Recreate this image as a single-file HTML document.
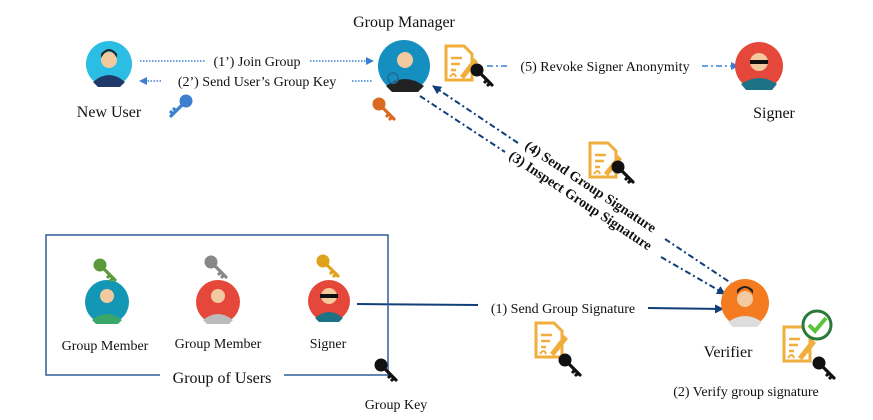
<!DOCTYPE html>
<html><head><meta charset="utf-8"><style>
html,body{margin:0;padding:0;background:#fff}
svg{display:block}
text{font-family:"Liberation Serif",serif;fill:#111}
</style></head><body>
<svg width="873" height="420" viewBox="0 0 873 420" xmlns="http://www.w3.org/2000/svg">
<defs>
<marker id="ab" markerWidth="8" markerHeight="8" refX="7" refY="4" orient="auto" markerUnits="userSpaceOnUse"><path d="M0,0 L8,4 L0,8 z" fill="#3a7fd0"/></marker>
<marker id="an" markerWidth="9" markerHeight="9" refX="8" refY="4.5" orient="auto" markerUnits="userSpaceOnUse"><path d="M0,0 L9,4.5 L0,9 z" fill="#123f7a"/></marker>
<g id="key"><circle cx="0" cy="0" r="6"/><path d="M4,4 L15,15 M10,10 L8,12 M13,13 L11,15" stroke-width="3.2" stroke-linecap="round"/></g>
<g id="doc"><path d="M2,2 H20 L28,10 V36 H2 Z" fill="#fff" stroke="#f0ae3c" stroke-width="3"/><path d="M7,14 H18 M7,20 H16 M7,26 H12" stroke="#f0ae3c" stroke-width="2.5"/><path d="M6,33 q4,-6 6,0" stroke="#f0ae3c" stroke-width="2" fill="none"/><path d="M16,32 L30,14 L34,18 L20,35 Z" fill="#f0ae3c"/></g>
</defs>

<line x1="140" y1="61" x2="205" y2="61" stroke="#3a7fd0" stroke-width="1.5" stroke-dasharray="1.5 1.5"/>
<line x1="310" y1="61" x2="373" y2="61" stroke="#3a7fd0" stroke-width="1.5" stroke-dasharray="1.5 1.5" marker-end="url(#ab)"/>
<line x1="161" y1="81" x2="140" y2="81" stroke="#3a7fd0" stroke-width="1.5" stroke-dasharray="1.5 1.5" marker-end="url(#ab)"/>
<line x1="352" y1="81" x2="373" y2="81" stroke="#3a7fd0" stroke-width="1.5" stroke-dasharray="1.5 1.5"/>
<text x="257" y="66" font-size="14" text-anchor="middle">(1’) Join Group</text>
<text x="257" y="86" font-size="14" text-anchor="middle">(2’) Send User’s Group Key</text>
<line x1="487" y1="66" x2="507" y2="66" stroke="#3a7fd0" stroke-width="1.5" stroke-dasharray="6 3 2 3"/>
<line x1="702" y1="66" x2="738" y2="66" stroke="#3a7fd0" stroke-width="1.5" stroke-dasharray="6 3 2 3" marker-end="url(#ab)"/>
<text x="605" y="71" font-size="14" text-anchor="middle">(5) Revoke Signer Anonymity</text>

<line x1="518" y1="143" x2="433" y2="86" stroke="#123f7a" stroke-width="2" stroke-dasharray="6 3 2 3" marker-end="url(#an)"/>
<line x1="665" y1="239" x2="731" y2="283" stroke="#123f7a" stroke-width="2" stroke-dasharray="6 3 2 3"/>
<line x1="420" y1="96" x2="505" y2="152" stroke="#123f7a" stroke-width="2" stroke-dasharray="6 3 2 3"/>
<line x1="661" y1="257" x2="725" y2="294" stroke="#123f7a" stroke-width="2" stroke-dasharray="6 3 2 3" marker-end="url(#an)"/>
<text transform="translate(524,148) rotate(33.5)" font-size="14" font-weight="bold">(4) Send Group Signature</text>
<text transform="translate(508,158) rotate(33.5)" font-size="14" font-weight="bold">(3) Inspect Group Signature</text>

<line x1="357" y1="304" x2="478" y2="305" stroke="#123f7a" stroke-width="2"/>
<line x1="648" y1="308" x2="723" y2="309" stroke="#123f7a" stroke-width="2" marker-end="url(#an)"/>
<text x="563" y="313" font-size="14" text-anchor="middle">(1) Send Group Signature</text>

<path d="M160,375 H46 V235 H388 V375 H284" fill="none" stroke="#2f5f95" stroke-width="1.5"/>
<text x="222" y="383" font-size="16" text-anchor="middle">Group of Users</text>

<circle cx="109" cy="64" r="23" fill="#2bbde3"/><circle cx="109" cy="60" r="8" fill="#f3c9a0"/><path d="M93,82 q16,-14 32,0 L120,87 H98Z" fill="#1f3a68"/><path d="M101,58 q8,-14 16,0 v-4 q-8,-10 -16,0z" fill="#222"/>
<circle cx="404" cy="66" r="26" fill="#148fbf"/><circle cx="405" cy="60" r="8" fill="#f3c9a0"/><path d="M386,86 q19,-14 38,0 L418,92 H392Z" fill="#222"/><circle cx="393" cy="78" r="5" fill="none" stroke="#1f6fa0" stroke-width="2"/>
<circle cx="759" cy="66" r="24" fill="#e5483a"/><circle cx="759" cy="62" r="9" fill="#f3c9a0"/><rect x="750" y="60" width="18" height="4" fill="#111"/><path d="M741,84 q18,-12 36,0 L772,90 H746Z" fill="#1d7385"/>
<circle cx="107" cy="302" r="22" fill="#1496b5"/><circle cx="107" cy="296" r="7" fill="#f3c9a0"/><path d="M92,320 q15,-12 30,0 L118,324 H96Z" fill="#3aa66a"/>
<circle cx="218" cy="302" r="22" fill="#e5483a"/><circle cx="218" cy="296" r="7" fill="#f3c9a0"/><path d="M203,320 q15,-12 30,0 L229,324 H207Z" fill="#bbb"/>
<circle cx="329" cy="301" r="21" fill="#e5483a"/><circle cx="329" cy="296" r="8" fill="#f3c9a0"/><rect x="320" y="294" width="18" height="4" fill="#111"/><path d="M315,318 q14,-12 28,0 L339,322 H319Z" fill="#1d7385"/>
<circle cx="745" cy="303" r="24" fill="#f47b20"/><circle cx="745" cy="299" r="8" fill="#f3c9a0"/><path d="M737,294 q8,-12 16,0 v-4 q-8,-8 -16,0z" fill="#222"/><path d="M728,322 q17,-12 34,0 L757,327 H733Z" fill="#ddd"/>

<text x="109" y="117" font-size="16" text-anchor="middle">New User</text>
<text x="404" y="27" font-size="16" text-anchor="middle">Group Manager</text>
<text x="774" y="118" font-size="16" text-anchor="middle">Signer</text>
<text x="105" y="350" font-size="14" text-anchor="middle">Group Member</text>
<text x="218" y="348" font-size="14" text-anchor="middle">Group Member</text>
<text x="328" y="348" font-size="14" text-anchor="middle">Signer</text>
<text x="728" y="357" font-size="16" text-anchor="middle">Verifier</text>
<text x="746" y="396" font-size="14" text-anchor="middle">(2) Verify group signature</text>
<text x="396" y="409" font-size="14" text-anchor="middle">Group Key</text>

<use href="#key" x="186" y="101" fill="#3a7fd0" stroke="#3a7fd0" transform="rotate(90 186 101)"/>
<use href="#key" x="379" y="104" fill="#d96a1f" stroke="#d96a1f"/>
<use href="#key" x="100" y="265" fill="#5a9a3a" stroke="#5a9a3a"/>
<use href="#key" x="211" y="262" fill="#888" stroke="#888"/>
<use href="#key" x="323" y="261" fill="#e0a21a" stroke="#e0a21a"/>
<use href="#key" x="381" y="365" fill="#111" stroke="#111"/>

<use href="#doc" x="444" y="44"/><use href="#key" x="477" y="70" fill="#111" stroke="#111"/>
<use href="#doc" x="588" y="141"/><use href="#key" x="618" y="167" fill="#111" stroke="#111"/>
<use href="#doc" x="534" y="321"/><use href="#key" x="565" y="360" fill="#111" stroke="#111"/>
<use href="#doc" x="782" y="325"/><use href="#key" x="819" y="363" fill="#111" stroke="#111"/>
<circle cx="817" cy="325" r="14" fill="#fff" stroke="#2a7a3a" stroke-width="3"/>
<path d="M809,325 l6,6 l11,-13" stroke="#5ac43a" stroke-width="4" fill="none"/>
</svg>
</body></html>
